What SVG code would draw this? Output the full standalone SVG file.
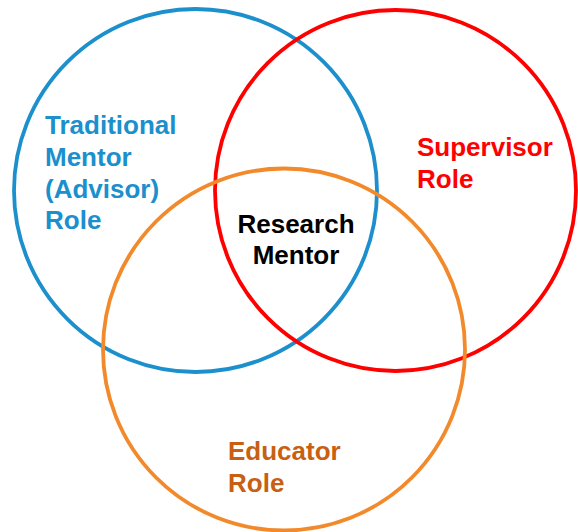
<svg xmlns="http://www.w3.org/2000/svg" width="578" height="532" viewBox="0 0 578 532">
<style>
  .ring { fill: none; stroke-width: 3.8; }
  .lbl { font-family: "Liberation Sans", Arial, sans-serif; font-weight: bold; font-size: 26px; }
</style>
<rect width="578" height="532" fill="#ffffff"/>
<g id="traditional-mentor">
  <circle class="ring" cx="195.5" cy="190.5" r="181.5" stroke="#1C8FCD"/>
  <text class="lbl" fill="#1C8FCD" x="45" y="134">Traditional</text>
  <text class="lbl" fill="#1C8FCD" x="45" y="166">Mentor</text>
  <text class="lbl" fill="#1C8FCD" x="45" y="197.5">(Advisor)</text>
  <text class="lbl" fill="#1C8FCD" x="45" y="229">Role</text>
</g>
<g id="supervisor">
  <circle class="ring" cx="395.5" cy="190.5" r="180.5" stroke="#FF0000"/>
  <text class="lbl" fill="#FF0000" x="417" y="156">Supervisor</text>
  <text class="lbl" fill="#FF0000" x="417" y="188">Role</text>
</g>
<g id="educator">
  <circle class="ring" cx="284" cy="349.5" r="181" stroke="#F28A2B"/>
  <text class="lbl" fill="#C85F12" x="228" y="460">Educator</text>
  <text class="lbl" fill="#C85F12" x="228" y="492">Role</text>
</g>
<g id="research-mentor">
  <text class="lbl" fill="#000000" x="296" y="233" text-anchor="middle">Research</text>
  <text class="lbl" fill="#000000" x="296" y="264" text-anchor="middle">Mentor</text>
</g>
<g id="connectors"></g>
</svg>
